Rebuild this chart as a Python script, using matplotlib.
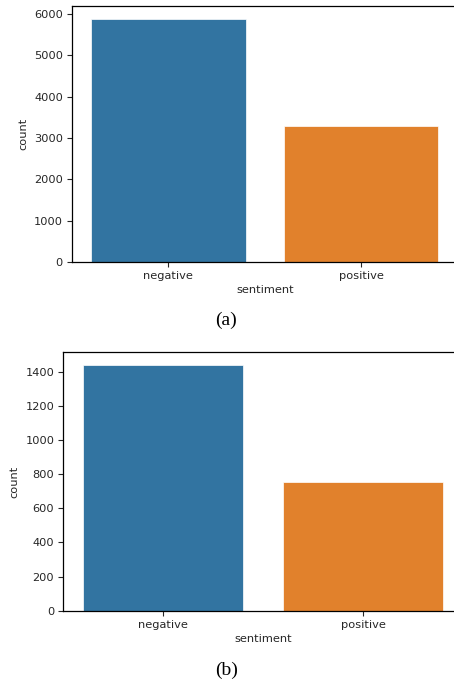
import matplotlib
matplotlib.use("Agg")
import matplotlib.pyplot as plt

# sentiment counts for the two datasets
categories = ["negative", "positive"]
counts_a = [5880, 3300]
counts_b = [1441, 752]
yticks_a = [0, 1000, 2000, 3000, 4000, 5000, 6000]
yticks_b = [0, 200, 400, 600, 800, 1000, 1200, 1400]
colors = ["#3274a1", "#e1812c"]

plt.rcParams["font.size"] = 8.2
plt.rcParams["axes.linewidth"] = 0.9
plt.rcParams["text.color"] = "#262626"
plt.rcParams["axes.labelcolor"] = "#262626"

fig = plt.figure(figsize=(4.54, 6.85), dpi=100)

# axes run past the right edge, like the cropped screenshot
ax1 = fig.add_axes([0.1586, 0.6175, 0.8496, 0.3737])
ax2 = fig.add_axes([0.1394, 0.1085, 0.881, 0.3772])


def countplot(ax, counts, yticks, ytop):
    x = range(len(categories))
    ax.bar(x, counts, width=0.8, color=colors, edgecolor="white", linewidth=0.5)
    ax.set_xlim(-0.5, len(categories) - 0.5)
    ax.set_ylim(0, ytop)
    ax.set_xticks(list(x))
    ax.set_xticklabels(categories)
    ax.set_yticks(yticks)
    ax.set_xlabel("sentiment", labelpad=3)
    ax.set_ylabel("count", labelpad=4)
    ax.tick_params(length=3.5, width=0.8, pad=3, colors="#262626")


countplot(ax1, counts_a, yticks_a, 6194)
countplot(ax2, counts_b, yticks_b, 1513)

fig.text(0.498, 1 - 320 / 685, "(a)", ha="center", va="center",
         family="Liberation Serif", fontsize=14, color="black")
fig.text(0.498, 1 - 670 / 685, "(b)", ha="center", va="center",
         family="Liberation Serif", fontsize=14, color="black")

fig.savefig("out.png", dpi=100)
